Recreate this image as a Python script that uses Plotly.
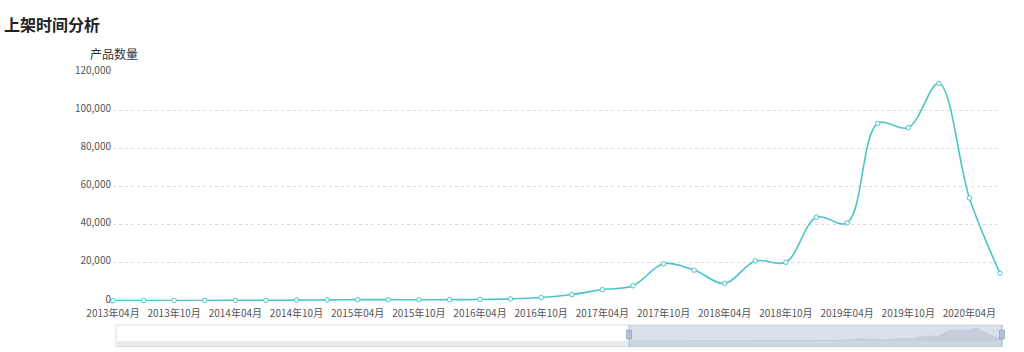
import plotly.graph_objects as go

# ---- data ----
months = [
    "2013年04月", "2013年07月", "2013年10月", "2014年01月", "2014年04月", "2014年07月",
    "2014年10月", "2015年01月", "2015年04月", "2015年07月", "2015年10月", "2016年01月",
    "2016年04月", "2016年07月", "2016年10月", "2017年01月", "2017年04月", "2017年07月",
    "2017年10月", "2018年01月", "2018年04月", "2018年07月", "2018年10月", "2019年01月",
    "2019年04月", "2019年07月", "2019年10月", "2020年01月", "2020年04月", "2020年07月",
]
counts = [
    200, 250, 300, 300, 350, 350,
    450, 600, 700, 700, 650, 700,
    800, 1100, 1800, 3400, 6000, 8000,
    19500, 16200, 9200, 21000, 20300, 43900,
    40900, 93000, 90800, 114000, 54000, 14500,
]
y_ticks = [0, 20000, 40000, 60000, 80000, 100000, 120000]
x_tick_labels = months[::2]

title_text = "上架时间分析"
y_name = "产品数量"

# ---- styling / layout helpers ----
W, H = 1024, 352
L, R, T, B = 113, 22, 72, 5
PW = W - L - R
PH = H - T - B


def px(x):
    return (x - L) / PW


def py(y):
    return (H - B - y) / PH


FONT = "Noto Sans CJK SC, Microsoft YaHei, sans-serif"
LINE = "#4dc3cb"

fig = go.Figure()

fig.add_trace(go.Scatter(
    x=months, y=counts, mode="lines+markers",
    line=dict(color=LINE, width=1.6, shape="spline", smoothing=1.0),
    marker=dict(symbol="circle", size=4.5, color="white", line=dict(color=LINE, width=1)),
    xaxis="x", yaxis="y", showlegend=False, cliponaxis=False,
))

# data shadow in the zoom slider
fig.add_trace(go.Scatter(
    x=months, y=counts, mode="lines", fill="tozeroy",
    line=dict(color="#c3ccd9", width=0.8), fillcolor="rgba(180,192,210,0.55)",
    xaxis="x2", yaxis="y2", showlegend=False, hoverinfo="skip",
))

fig.update_layout(
    width=W, height=H,
    margin=dict(l=L, r=R, t=T, b=B, autoexpand=False),
    paper_bgcolor="white", plot_bgcolor="rgba(0,0,0,0)",
    font=dict(family=FONT, color="#555", size=10),
    xaxis=dict(
        domain=[0, px(1000)], anchor="y", type="category", automargin=False,
        range=[0, len(months) - 1],
        tickmode="array", tickvals=x_tick_labels, ticktext=x_tick_labels,
        showgrid=False, zeroline=False, showline=False, ticks="",
        ticklabelstandoff=5,
        tickfont=dict(size=10, color="#555"),
    ),
    yaxis=dict(
        domain=[py(301), py(72)], anchor="x", automargin=False,
        range=[0, 120000], tickvals=y_ticks, tickformat=",",
        showgrid=True, gridcolor="#dcdcdc", griddash="dot", gridwidth=1,
        zeroline=False, showline=False, ticks="",
        ticklabelstandoff=1, ticklabelshift=-2,
        tickfont=dict(size=10, color="#555"),
    ),
    xaxis2=dict(
        domain=[px(629), px(1002)], anchor="y2", type="category", automargin=False,
        range=[0, len(months) - 1], visible=False,
    ),
    yaxis2=dict(
        domain=[py(341), py(325)], anchor="x2", automargin=False,
        range=[0, 140000], visible=False,
    ),
)

shapes = []
# slider frame
shapes.append(dict(type="rect", xref="paper", yref="paper", layer="below",
                   x0=px(116), x1=px(1002), y0=py(346.5), y1=py(325),
                   line=dict(color="#dddddd", width=1), fillcolor="white"))
# bottom strip
shapes.append(dict(type="rect", xref="paper", yref="paper", layer="below",
                   x0=px(116.5), x1=px(1002), y0=py(346), y1=py(341),
                   line=dict(width=0), fillcolor="#e9ebee"))
# selected window
shapes.append(dict(type="rect", xref="paper", yref="paper", layer="below",
                   x0=px(629), x1=px(1002), y0=py(347), y1=py(325),
                   line=dict(width=0), fillcolor="rgba(167,183,204,0.42)"))
for hx in (629, 1002):
    shapes.append(dict(type="line", xref="paper", yref="paper",
                       x0=px(hx), x1=px(hx), y0=py(347), y1=py(325),
                       line=dict(color="#a7b7cc", width=1)))
    shapes.append(dict(type="rect", xref="paper", yref="paper",
                       x0=px(hx - 2.5), x1=px(hx + 2.5), y0=py(339), y1=py(330),
                       line=dict(color="#97a8c0", width=0.8), fillcolor="#b2c0d3"))
fig.update_layout(shapes=shapes)

fig.add_annotation(text=title_text, xref="paper", yref="paper",
                   x=px(2), y=py(24), xanchor="left", yanchor="middle",
                   showarrow=False, font=dict(family=FONT, size=16, color="#222", weight="bold"))
fig.add_annotation(text=y_name, xref="paper", yref="paper",
                   x=px(114), y=py(53), xanchor="center", yanchor="middle",
                   showarrow=False, font=dict(family=FONT, size=12, color="#333"))

fig.write_html("out.html")
